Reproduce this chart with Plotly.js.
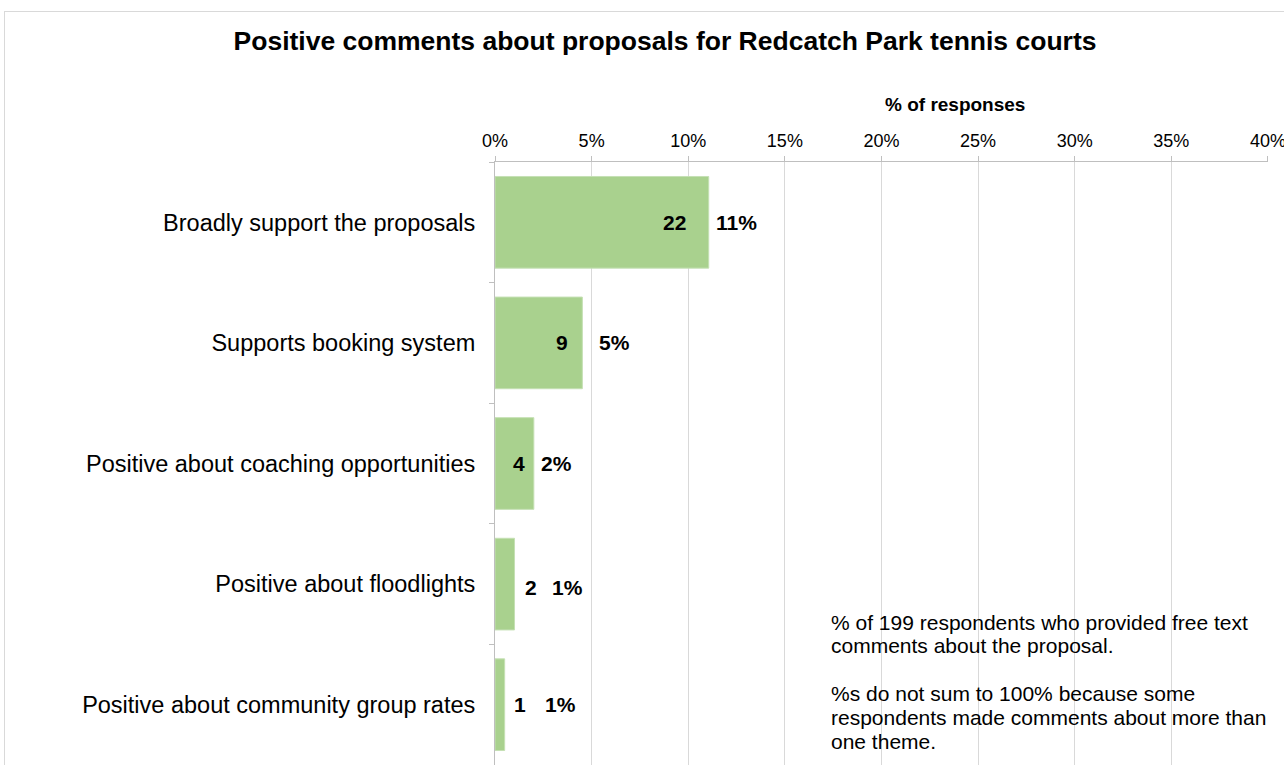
<!DOCTYPE html>
<html>
<head>
<meta charset="utf-8">
<script src="https://cdn.plot.ly/plotly-3.0.1.min.js"></script>
<style>
  html, body { margin: 0; padding: 0; background: #fff; overflow: hidden; }
  #wrap { position: relative; width: 1284px; height: 765px; overflow: hidden; }
  #chart { position: absolute; left: 0; top: 0; width: 1284px; height: 765px; }
  #frame { position: absolute; left: 4px; top: 11px; width: 1340px; height: 800px;
           border: 1px solid #d9d9d9; pointer-events: none; box-sizing: border-box; }
</style>
</head>
<body>
<div id="wrap"><div id="chart"></div><div id="frame"></div></div>
<script>
// ---- data ----
const categories = [
  "Broadly support the proposals",
  "Supports booking system",
  "Positive about coaching opportunities",
  "Positive about floodlights",
  "Positive about community group rates"
];
const percentValues = [11.06, 4.52, 2.01, 1.01, 0.50];
const countLabels = ["22", "9", "4", "2", "1"];
const percentLabels = ["11%", "5%", "2%", "1%", "1%"];
const tickValues = [0, 5, 10, 15, 20, 25, 30, 35, 40];
const tickLabels = ["0%", "5%", "10%", "15%", "20%", "25%", "30%", "35%", "40%"];
const titleText = "Positive comments about proposals for Redcatch Park tennis courts";
const axisTitleText = "% of responses";
const noteLines = [
  "% of 199 respondents who provided free text",
  "comments about the proposal.",
  "",
  "%s do not sum to 100% because some",
  "respondents made comments about more than",
  "one theme."
];

// ---- layout geometry (pixels) ----
const W = 1284, H = 765;
const M = { l: 495, r: 16, t: 162, b: 0 };
const plotW = W - M.l - M.r, plotH = H - M.t - M.b;
const px2paperX = px => (px - M.l) / plotW;
const py2paperY = py => 1 - (py - M.t) / plotH;

// label offsets (pixel shifts from bar end)
const countShift = [-34, -20, -15, 16, 15];
const pctShift = [5, 15, 5, 35, 38];

const FONT = "Liberation Sans, Arial, sans-serif";

const trace = {
  type: "bar",
  orientation: "h",
  y: categories,
  x: percentValues,
  marker: { color: "#a9d18e", line: { color: "#c5e0b4", width: 1 } },
  hoverinfo: "skip"
};

const annotations = [];
categories.forEach((c, i) => {
  annotations.push({
    x: percentValues[i], y: c, xref: "x", yref: "y",
    text: "<b>" + countLabels[i] + "</b>", showarrow: false,
    xanchor: "center", yanchor: "middle", xshift: countShift[i], yshift: i === 3 ? -3 : 0,
    font: { family: FONT, size: 21, color: "#000" }
  });
  annotations.push({
    x: percentValues[i], y: c, xref: "x", yref: "y",
    text: "<b>" + percentLabels[i] + "</b>", showarrow: false,
    xanchor: "left", yanchor: "middle", xshift: pctShift[i], yshift: i === 3 ? -3 : 0,
    font: { family: FONT, size: 21, color: "#000" }
  });
});
annotations.push({
  xref: "paper", yref: "paper", x: px2paperX(955), y: py2paperY(104),
  text: "<b>" + axisTitleText + "</b>", showarrow: false,
  xanchor: "center", yanchor: "middle",
  font: { family: FONT, size: 19, color: "#000" }
});
const noteTop = 622, noteStep = 23.8;
noteLines.forEach((ln, i) => {
  if (!ln) return;
  annotations.push({
    xref: "paper", yref: "paper", x: px2paperX(829), y: py2paperY(noteTop + i * noteStep),
    text: ln, showarrow: false, align: "left",
    xanchor: "left", yanchor: "middle",
    font: { family: FONT, size: 21, color: "#000" }
  });
});

const layout = {
  width: W, height: H,
  margin: M,
  paper_bgcolor: "rgba(0,0,0,0)",
  plot_bgcolor: "rgba(0,0,0,0)",
  showlegend: false,
  bargap: 0.24,
  title: {
    text: "<b>" + titleText + "</b>",
    x: 665 / W, xanchor: "center", xref: "container",
    y: 1 - 41 / H, yanchor: "middle", yref: "container",
    font: { family: FONT, size: 26.5, color: "#000" }
  },
  xaxis: {
    side: "top",
    range: [0, 40.001],
    tickvals: tickValues,
    ticktext: tickLabels,
    ticklabeloverflow: "allow",
    showgrid: true, gridcolor: "#d9d9d9", gridwidth: 1,
    showline: true, linecolor: "#bfbfbf", linewidth: 1,
    ticks: "outside", ticklen: 5, tickcolor: "#bfbfbf",
    ticklabelstandoff: 2,
    zeroline: false,
    tickfont: { family: FONT, size: 18, color: "#000" },
    fixedrange: true
  },
  yaxis: {
    type: "category",
    autorange: "reversed",
    showline: true, linecolor: "#bfbfbf", linewidth: 1,
    ticks: "outside", ticklen: 5, tickcolor: "#bfbfbf",
    tickson: "boundaries",
    ticklabelstandoff: 14,
    showgrid: false, zeroline: false,
    tickfont: { family: FONT, size: 23.5, color: "#000" },
    fixedrange: true
  },
  annotations: annotations
};

Plotly.newPlot("chart", [trace], layout, { displayModeBar: false, staticPlot: true });
</script>
</body>
</html>
